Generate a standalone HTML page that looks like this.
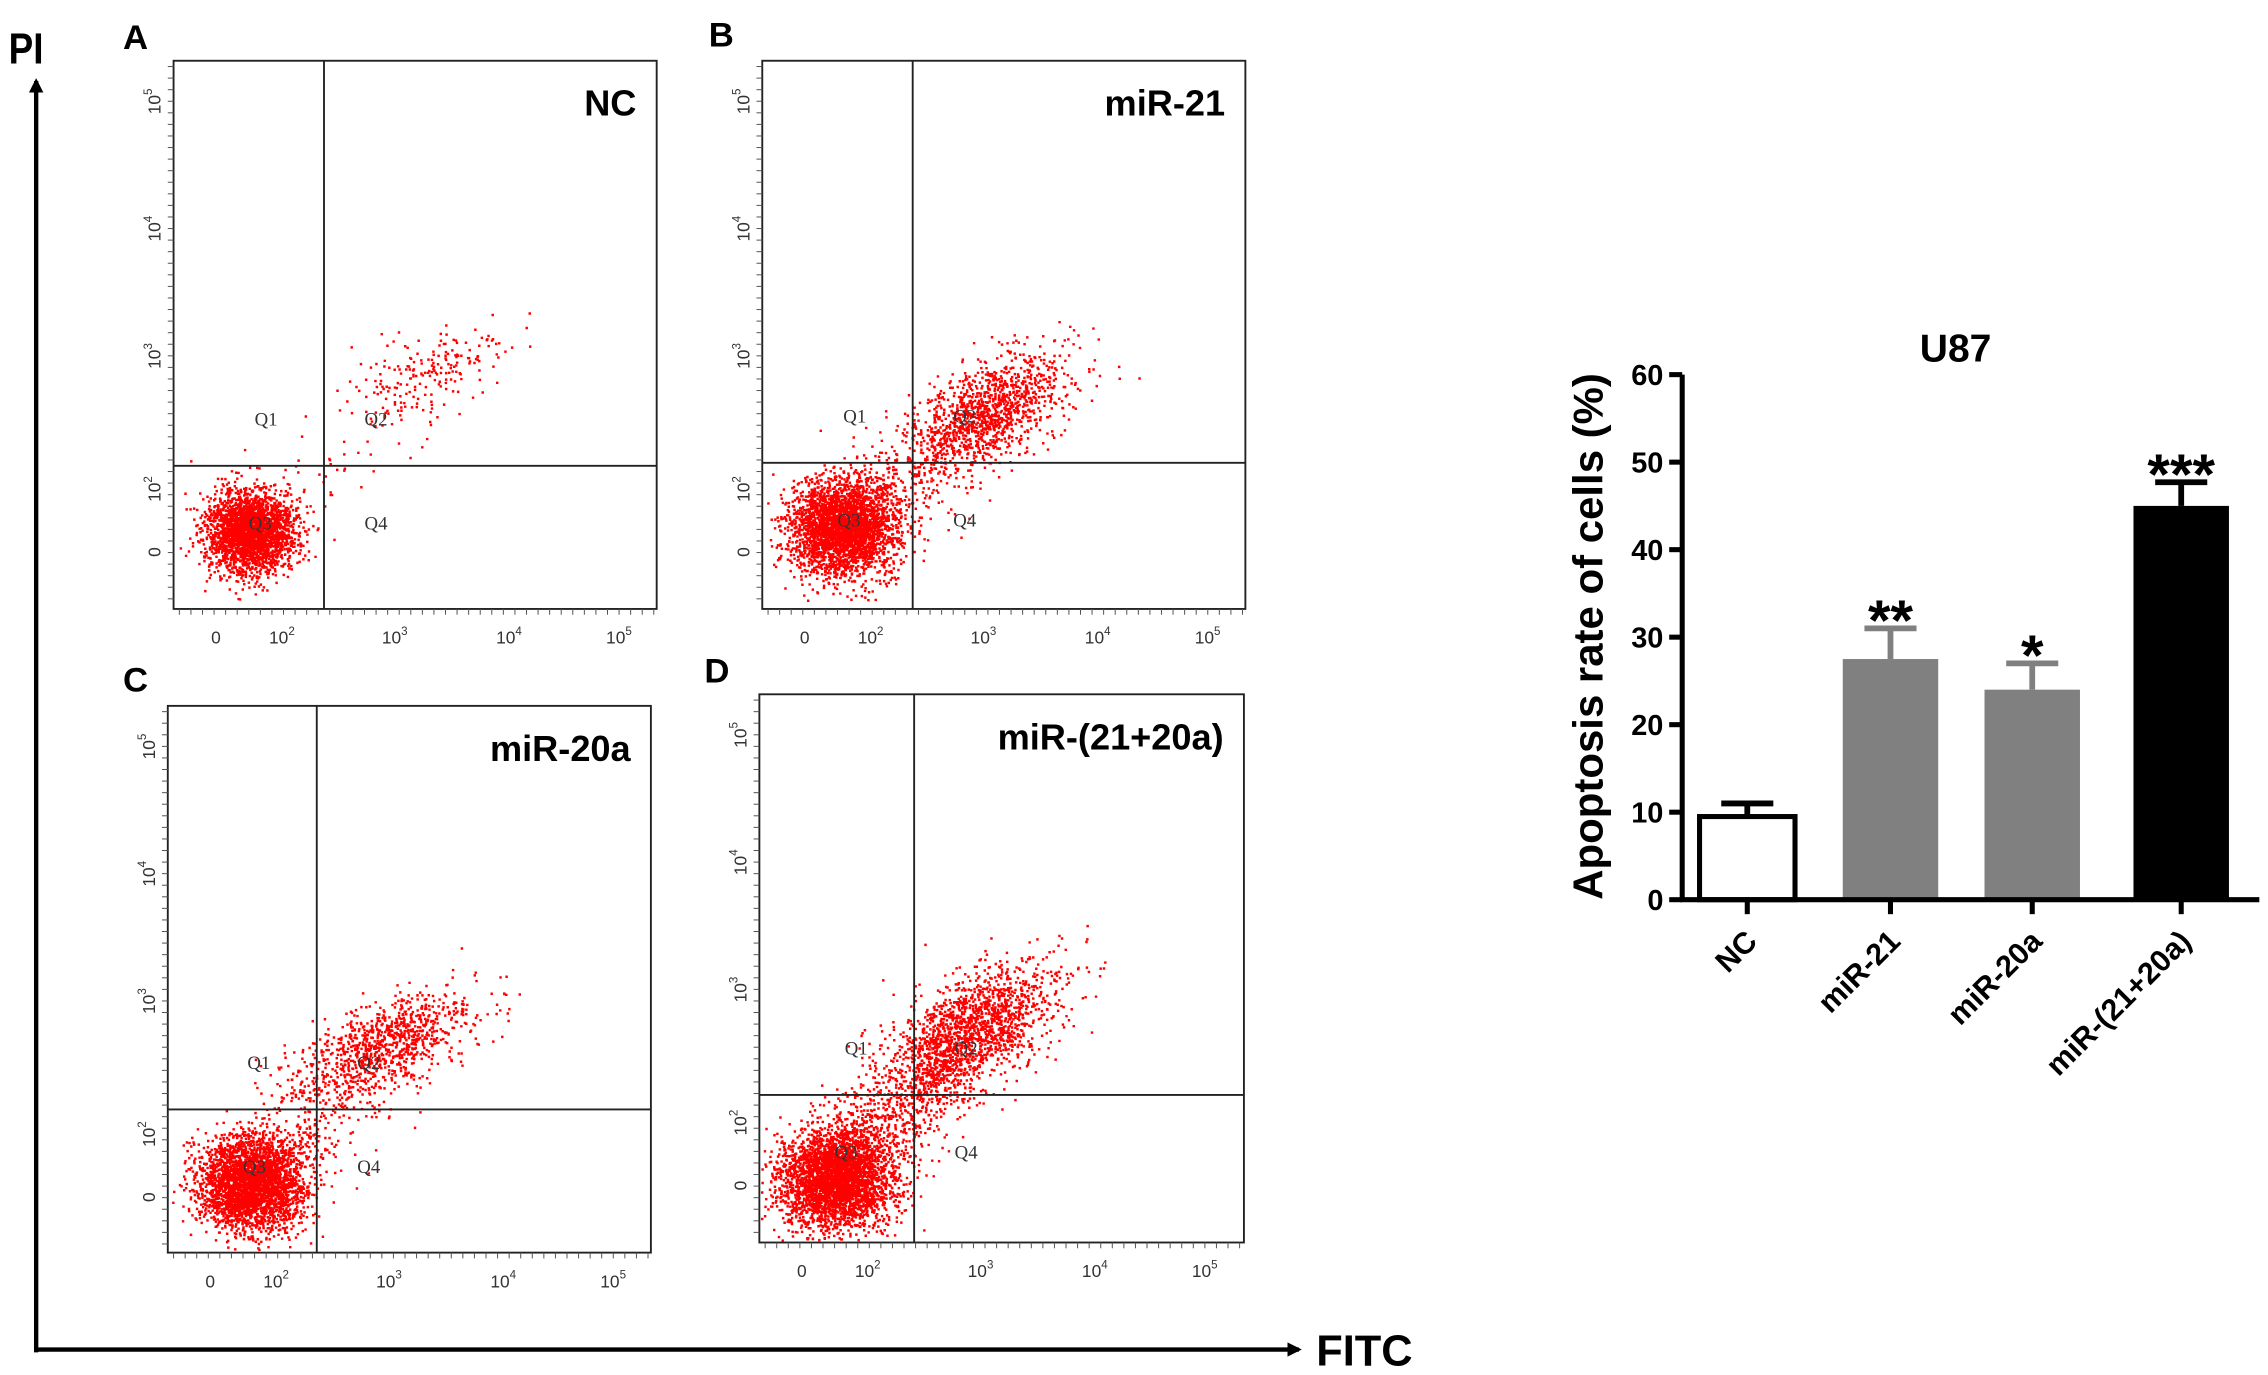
<!DOCTYPE html>
<html><head><meta charset="utf-8"><style>
html,body{margin:0;padding:0;background:#fff;}
svg{display:block;font-family:"Liberation Sans",Arial,sans-serif;}
</style></head><body>
<svg id="fig" width="2268" height="1375" viewBox="0 0 1568 950.6" preserveAspectRatio="none" xmlns="http://www.w3.org/2000/svg">
<defs><marker id="ah" markerWidth="10" markerHeight="10" refX="8" refY="5" orient="auto" markerUnits="userSpaceOnUse"><path d="M0,0 L10,5 L0,10 z" fill="#000"/></marker></defs>
<text x="6" y="44" font-size="30" font-weight="bold" transform="scale(0.85,1) translate(1,0)">PI</text>
<line x1="25" y1="935" x2="25" y2="56" stroke="#000" stroke-width="3" marker-end="url(#ah)"/>
<line x1="24" y1="933" x2="898" y2="933" stroke="#000" stroke-width="3" marker-end="url(#ah)"/>
<text x="910" y="944" font-size="30" font-weight="bold">FITC</text>
<g id="panels"></g>
<g id="bars"></g>
</svg>
<script>
// Bar chart data
const categories = ["NC","miR-21","miR-20a","miR-(21+20a)"];
const values = [9.5, 27.5, 24.0, 45.0];
const errors = [1.5, 3.5, 3.0, 2.7];
const stars = ["", "**", "*", "***"];
const yTicks = [0,10,20,30,40,50,60];
const barFills = ["#ffffff","#808080","#808080","#000000"];

// Flow panels
const panelLetters = ["A","B","C","D"];
const panelTitles = ["NC","miR-21","miR-20a","miR-(21+20a)"];
const q3Counts = [2600, 3000, 3000, 3200];
const q2Counts = [180, 1000, 800, 1300];
const bridgeCounts = [90, 600, 500, 1100];

const NS="http://www.w3.org/2000/svg";
function mk(tag, attrs, parent){const e=document.createElementNS(NS,tag);for(const k in attrs)e.setAttribute(k,attrs[k]);parent.appendChild(e);return e;}

const boxes=[{x:120,y:42,w:334,h:379,gx:104,gy:280,lx:85,ly:34},{x:527,y:42,w:334,h:379,gx:104,gy:278,lx:490,ly:32},{x:116,y:488,w:334,h:378,gx:103,gy:279,lx:85,ly:478},{x:525,y:480,w:335,h:379,gx:107,gy:277,lx:487,ly:472}];
const q3c=[[52,325,15,14],[55,323,18,16],[57,330,18,16],[52,335,19,17]];
const q2c=[[175,215,28,18],[158,240,28,22],[152,232,32,20],[150,228,30,26]];
let seed=7;function rnd(){seed=(seed*16807)%2147483647;return seed/2147483647;}
function gauss(){let u=rnd()||1e-6,v=rnd();return Math.sqrt(-2*Math.log(u))*Math.cos(2*Math.PI*v);}
const P=document.getElementById('panels');
boxes.forEach((b,i)=>{
  const g=mk('g',{transform:`translate(${b.x},${b.y})`},P);
  
  
  const L=mk('text',{x:b.lx-b.x,y:b.ly-b.y,'font-size':24,'font-weight':'bold'},g);L.textContent=panelLetters[i];
  
  let d='';
  function dot(x,y){if(x<1||y<1||x>b.w-2||y>b.h-2)return;d+=`M${x.toFixed(1)},${y.toFixed(1)}h1.7v1.7h-1.7z`;}
  for(let k=0;k<q3Counts[i];k++)dot(q3c[i][0]+gauss()*q3c[i][2],q3c[i][1]+gauss()*q3c[i][3]);
  for(let k=0;k<q2Counts[i];k++){const t=gauss();dot(q2c[i][0]+t*q2c[i][2]*0.8+gauss()*q2c[i][2]*0.55,q2c[i][1]-t*q2c[i][3]*0.6+gauss()*q2c[i][3]*0.65);}
  for(let k=0;k<bridgeCounts[i];k++){const t=rnd();dot(q3c[i][0]+(q2c[i][0]-q3c[i][0])*t+gauss()*18,q3c[i][1]+(q2c[i][1]-q3c[i][1])*t+gauss()*16);}
  const pd=mk('path',{d:d,fill:'#f00'},g);
  const r=mk('rect',{x:0,y:0,width:b.w,height:b.h,fill:'none',stroke:'#222','stroke-width':1.3},g);
  
  mk('line',{x1:b.gx,y1:0,x2:b.gx,y2:b.h,stroke:'#222','stroke-width':1.3},g);
  mk('line',{x1:0,y1:b.gy,x2:b.w,y2:b.gy,stroke:'#222','stroke-width':1.3},g);
  const T=mk('text',{x:b.w-14,y:38,'font-size':25,'font-weight':'bold','text-anchor':'end'},g);T.textContent=panelTitles[i];
  
  [["Q1",b.gx-48,b.gy-28],["Q2",b.gx+28,b.gy-28],["Q3",52,b.gy+44],["Q4",b.gx+28,b.gy+44]].forEach(q=>{const e=mk('text',{x:q[1],y:q[2],'font-size':13,fill:'#333','font-family':'Liberation Serif,serif'},g);e.textContent=q[0];});
  const xs=[["0",30],["10","70","2"],["10",148,"3"],["10",227,"4"],["10",303,"5"]];
  xs.forEach(t=>{const e=mk('text',{x:+t[1]-4,y:b.h+24,'font-size':12,fill:'#333'},g);e.textContent=t[0];if(t[2]){const s=mk('tspan',{dy:-6,'font-size':8},e);s.textContent=t[2];}});
  for(let x=4;x<b.w;x+=8)mk('line',{x1:x,y1:b.h,x2:x,y2:b.h+4,stroke:'#555','stroke-width':0.7},g);
  const ys=[["0",336],["10",298,"2"],["10",206,"3"],["10",118,"4"],["10",30,"5"]];
  ys.forEach(t=>{const e=mk('text',{transform:`translate(-9,${t[1]+7}) rotate(-90)`,'font-size':12,fill:'#333'},g);e.textContent=t[0];if(t[2]){const s=mk('tspan',{dy:-6,'font-size':8},e);s.textContent=t[2];}});
  for(let y=4;y<b.h;y+=8)mk('line',{x1:-4,y1:y,x2:0,y2:y,stroke:'#555','stroke-width':0.7},g);
});

// Bar chart
const B=document.getElementById('bars');
const ax={x0:1163,y0:622,y60:259,xEnd:1562};
const centers=[1208,1307,1405,1508];const bw=66;
function yS(v){return ax.y0-(ax.y0-ax.y60)*v/60;}
const ttl=mk('text',{x:1352,y:250,'font-size':27,'font-weight':'bold','text-anchor':'middle'},B);ttl.textContent="U87";

const yl=mk('text',{transform:'translate(1108,440) rotate(-90)','font-size':29,'font-weight':'bold','text-anchor':'middle'},B);yl.textContent="Apoptosis rate of cells (%)";

values.forEach((v,i)=>{
  const cx=centers[i];
  const c=barFills[i]==='#ffffff'?'#000':barFills[i];
  const el=mk('line',{x1:cx,y1:yS(v),x2:cx,y2:yS(v+errors[i]),stroke:c,'stroke-width':4},B);
  
  mk('line',{x1:cx-18,y1:yS(v+errors[i]),x2:cx+18,y2:yS(v+errors[i]),stroke:c,'stroke-width':4},B);
  const r=mk('rect',{x:cx-bw/2,y:yS(v),width:bw,height:ax.y0-yS(v),fill:barFills[i],stroke:c,'stroke-width':barFills[i]==='#ffffff'?3.5:0},B);
  
  if(stars[i]){const s=mk('text',{x:cx,y:yS(v+errors[i])+8,'font-size':40,'font-weight':'bold','text-anchor':'middle'},B);s.textContent=stars[i];
    }
  mk('line',{x1:cx,y1:ax.y0,x2:cx,y2:ax.y0+10,stroke:'#000','stroke-width':3.5},B);
  const lb=mk('text',{transform:`translate(${cx+8},${ax.y0+30}) rotate(-45)`,'font-size':21,'font-weight':'bold','text-anchor':'end'},B);lb.textContent=categories[i];
  
});
const ya=mk('line',{x1:ax.x0,y1:ax.y60,x2:ax.x0,y2:ax.y0+1.5,stroke:'#000','stroke-width':3.5},B);

const xa=mk('line',{x1:ax.x0-1.5,y1:ax.y0,x2:ax.xEnd,y2:ax.y0,stroke:'#000','stroke-width':3.5},B);

yTicks.forEach(t=>{
  mk('line',{x1:ax.x0-9,y1:yS(t),x2:ax.x0,y2:yS(t),stroke:'#000','stroke-width':3.5},B);
  const e=mk('text',{x:ax.x0-13,y:yS(t)+7,'font-size':20,'font-weight':'bold','text-anchor':'end'},B);e.textContent=t;
  
});
</script>
</body></html>
